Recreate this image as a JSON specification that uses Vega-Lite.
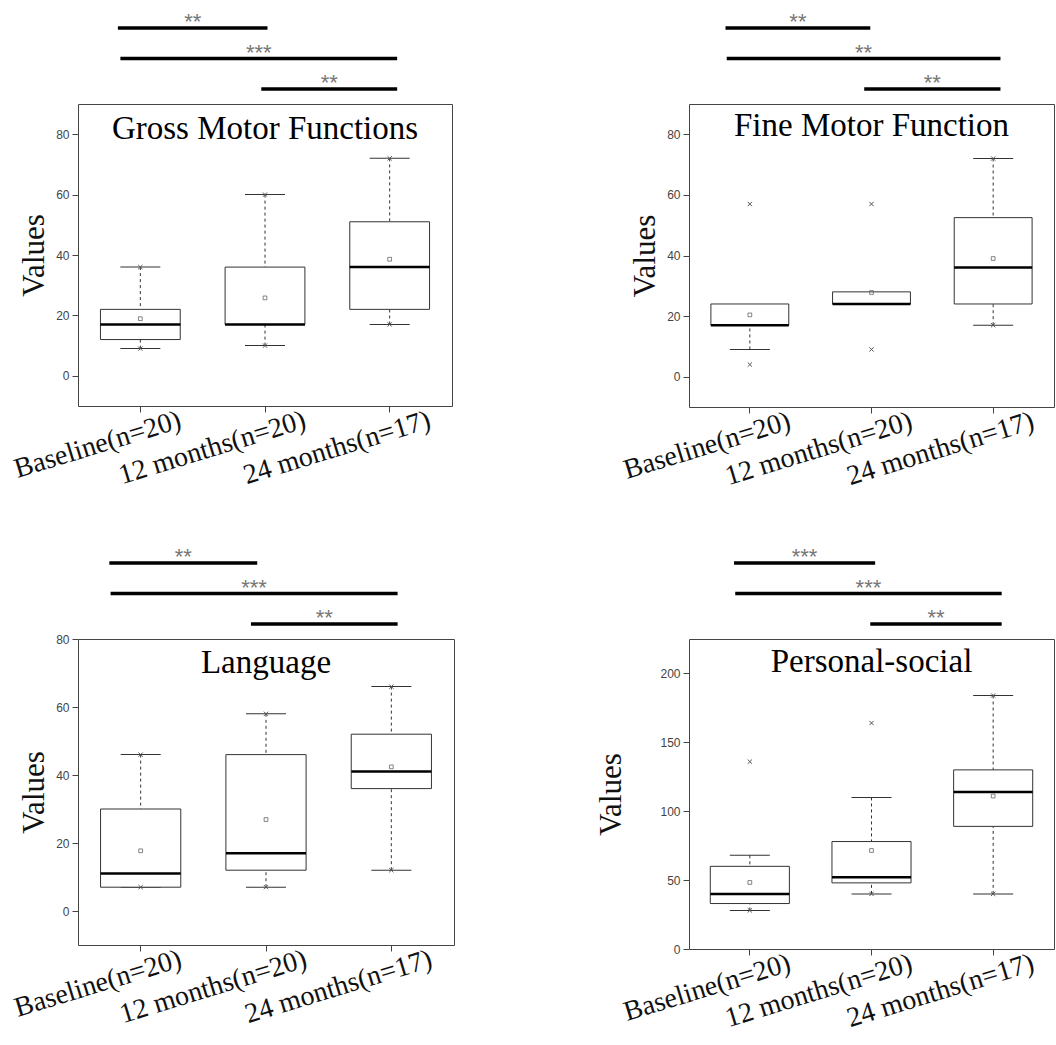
{
 "$schema": "https://vega.github.io/schema/vega-lite/v6.json",
 "background": "white",
 "padding": {"left": 10, "top": 0, "right": 0, "bottom": 0},
 "datasets": {
  "boxes": [
   {"panel": "G", "group": "Baseline(n=20)", "lw": 9, "q1": 12, "med": 17, "q3": 22, "uw": 36, "mean": 18.9, "min": 9, "max": 36},
   {"panel": "G", "group": "12 months(n=20)", "lw": 10, "q1": 17, "med": 17, "q3": 36, "uw": 60, "mean": 25.8, "min": 10, "max": 60},
   {"panel": "G", "group": "24 months(n=17)", "lw": 17, "q1": 22, "med": 36, "q3": 51, "uw": 72, "mean": 38.6, "min": 17, "max": 72},
   {"panel": "F", "group": "Baseline(n=20)", "lw": 9, "q1": 17, "med": 17, "q3": 24, "uw": null, "mean": 20.4, "min": 4, "max": 57},
   {"panel": "F", "group": "12 months(n=20)", "lw": null, "q1": 24, "med": 24, "q3": 28, "uw": null, "mean": 27.8, "min": 9, "max": 57},
   {"panel": "F", "group": "24 months(n=17)", "lw": 17, "q1": 24, "med": 36, "q3": 52.5, "uw": 72, "mean": 39, "min": 17, "max": 72},
   {"panel": "L", "group": "Baseline(n=20)", "lw": 7, "q1": 7, "med": 11, "q3": 30, "uw": 46, "mean": 17.7, "min": 7, "max": 46},
   {"panel": "L", "group": "12 months(n=20)", "lw": 7, "q1": 12, "med": 17, "q3": 46, "uw": 58, "mean": 26.9, "min": 7, "max": 58},
   {"panel": "L", "group": "24 months(n=17)", "lw": 12, "q1": 36, "med": 41, "q3": 52, "uw": 66, "mean": 42.4, "min": 12, "max": 66},
   {"panel": "P", "group": "Baseline(n=20)", "lw": 28, "q1": 33, "med": 40, "q3": 60, "uw": 68, "mean": 48.3, "min": 28, "max": 136},
   {"panel": "P", "group": "12 months(n=20)", "lw": 40, "q1": 48, "med": 52, "q3": 78, "uw": 110, "mean": 71.5, "min": 40, "max": 164},
   {"panel": "P", "group": "24 months(n=17)", "lw": 40, "q1": 89, "med": 114, "q3": 130, "uw": 184, "mean": 111, "min": 40, "max": 184}
  ],
  "sig": [
   {"panel": "G", "row": 1, "from": 0.32, "to": 1.52, "label": "**"},
   {"panel": "G", "row": 2, "from": 0.34, "to": 2.56, "label": "***"},
   {"panel": "G", "row": 3, "from": 1.47, "to": 2.56, "label": "**"},
   {"panel": "F", "row": 1, "from": 0.30, "to": 1.49, "label": "**"},
   {"panel": "F", "row": 2, "from": 0.31, "to": 2.56, "label": "**"},
   {"panel": "F", "row": 3, "from": 1.44, "to": 2.56, "label": "**"},
   {"panel": "L", "row": 1, "from": 0.25, "to": 1.43, "label": "**"},
   {"panel": "L", "row": 2, "from": 0.26, "to": 2.55, "label": "***"},
   {"panel": "L", "row": 3, "from": 1.38, "to": 2.55, "label": "**"},
   {"panel": "P", "row": 1, "from": 0.37, "to": 1.53, "label": "***"},
   {"panel": "P", "row": 2, "from": 0.38, "to": 2.57, "label": "***"},
   {"panel": "P", "row": 3, "from": 1.49, "to": 2.57, "label": "**"}
  ],
  "titles": [
   {"panel": "G", "title": "Gross Motor Functions"},
   {"panel": "F", "title": "Fine Motor Function"},
   {"panel": "L", "title": "Language"},
   {"panel": "P", "title": "Personal-social"}
  ]
 },
 "columns": 2,
 "align": {"row": "each", "column": "all"},
 "spacing": {"row": 44, "column": 140},
 "concat": [
  {
   "columns": 1, "align": "each", "bounds": "flush", "spacing": 4,
   "concat": [
    {
     "width": 374, "height": 100, "view": {"stroke": null},
     "data": {"name": "sig"},
     "transform": [{"filter": "datum.panel === 'G'"}, {"calculate": "(datum.from + datum.to) / 2", "as": "mid"}],
     "layer": [
      {"mark": {"type": "rule", "strokeWidth": 3.5, "color": "#000"},
       "encoding": {
        "x": {"field": "from", "type": "quantitative", "scale": {"domain": [0, 3], "nice": false, "zero": false}, "axis": null},
        "x2": {"field": "to"},
        "y": {"field": "row", "type": "quantitative", "scale": {"domain": [0.08, 3.36], "reverse": true, "nice": false, "zero": false}, "axis": null}}},
      {"mark": {"type": "text", "font": "Liberation Sans", "fontSize": 22, "color": "#777", "baseline": "alphabetic", "dy": 1},
       "encoding": {"x": {"field": "mid", "type": "quantitative", "axis": null}, "y": {"field": "row", "type": "quantitative", "axis": null}, "text": {"field": "label"}}}
     ]
    },
    {
     "width": 374, "height": 302,
     "layer": [
      {
       "data": {"name": "boxes"},
       "transform": [{"filter": "datum.panel === 'G'"}],
       "encoding": {"x": {"field": "group", "type": "nominal", "sort": null, "scale": {"type": "band", "domain": ["Baseline(n=20)", "12 months(n=20)", "24 months(n=17)"], "paddingInner": 0, "paddingOuter": 0}, "axis": {"title": null}}},
       "layer": [
        {"mark": {"type": "rule", "strokeDash": [3, 3], "color": "#333", "strokeWidth": 1},
         "encoding": {"y": {"field": "lw", "type": "quantitative", "title": "Values", "scale": {"domain": [-10, 90], "nice": false, "zero": false},
           "axis": {"title": "Values", "titlePadding": 5, "values": [0, 10, 20, 30, 40, 50, 60, 70, 80], "labelExpr": "datum.value % 20 === 0 ? datum.label : ''", "tickSize": {"condition": {"test": "datum.value % 20 === 0", "value": 6}, "value": 3}}},
          "y2": {"field": "q1"}}},
        {"mark": {"type": "rule", "strokeDash": [3, 3], "color": "#333", "strokeWidth": 1},
         "encoding": {"y": {"field": "uw", "type": "quantitative", "title": "Values"}, "y2": {"field": "q3"}}},
        {"mark": {"type": "tick", "size": 40, "thickness": 1, "color": "#333", "opacity": 1}, "encoding": {"y": {"field": "lw", "type": "quantitative", "title": "Values"}}},
        {"mark": {"type": "tick", "size": 40, "thickness": 1, "color": "#333", "opacity": 1}, "encoding": {"y": {"field": "uw", "type": "quantitative", "title": "Values"}}},
        {"mark": {"type": "bar", "fill": "white", "stroke": "#333", "strokeWidth": 1, "width": {"band": 0.64}},
         "encoding": {"y": {"field": "q1", "type": "quantitative", "title": "Values"}, "y2": {"field": "q3"}}},
        {"mark": {"type": "tick", "size": 80, "thickness": 2.5, "color": "#000", "opacity": 1}, "encoding": {"y": {"field": "med", "type": "quantitative", "title": "Values"}}},
        {"mark": {"type": "point", "shape": "square", "filled": false, "size": 14, "color": "#666", "strokeWidth": 0.8, "opacity": 1}, "encoding": {"y": {"field": "mean", "type": "quantitative", "title": "Values"}}},
        {"mark": {"type": "point", "shape": "M-1,-1L1,1M1,-1L-1,1", "filled": false, "size": 18, "color": "#555", "strokeWidth": 1, "opacity": 1}, "encoding": {"y": {"field": "min", "type": "quantitative", "title": "Values"}}},
        {"mark": {"type": "point", "shape": "M-1,-1L1,1M1,-1L-1,1", "filled": false, "size": 18, "color": "#555", "strokeWidth": 1, "opacity": 1}, "encoding": {"y": {"field": "max", "type": "quantitative", "title": "Values"}}}
       ]
      },
      {
       "data": {"name": "titles"},
       "transform": [{"filter": "datum.panel === 'G'"}],
       "mark": {"type": "text", "font": "Liberation Serif", "fontSize": 33, "baseline": "alphabetic", "color": "#000"},
       "encoding": {"x": {"datum": "12 months(n=20)", "type": "nominal"}, "y": {"datum": 78.5, "type": "quantitative", "title": "Values"}, "text": {"field": "title"}}
      }
     ]
    }
   ]
  },
  {
   "columns": 1, "align": "each", "bounds": "flush", "spacing": 4,
   "concat": [
    {
     "width": 365, "height": 100, "view": {"stroke": null},
     "data": {"name": "sig"},
     "transform": [{"filter": "datum.panel === 'F'"}, {"calculate": "(datum.from + datum.to) / 2", "as": "mid"}],
     "layer": [
      {"mark": {"type": "rule", "strokeWidth": 3.5, "color": "#000"},
       "encoding": {
        "x": {"field": "from", "type": "quantitative", "scale": {"domain": [0, 3], "nice": false, "zero": false}, "axis": null},
        "x2": {"field": "to"},
        "y": {"field": "row", "type": "quantitative", "scale": {"domain": [0.08, 3.36], "reverse": true, "nice": false, "zero": false}, "axis": null}}},
      {"mark": {"type": "text", "font": "Liberation Sans", "fontSize": 22, "color": "#777", "baseline": "alphabetic", "dy": 1},
       "encoding": {"x": {"field": "mid", "type": "quantitative", "axis": null}, "y": {"field": "row", "type": "quantitative", "axis": null}, "text": {"field": "label"}}}
     ]
    },
    {
     "width": 365, "height": 303,
     "layer": [
      {
       "data": {"name": "boxes"},
       "transform": [{"filter": "datum.panel === 'F'"}],
       "encoding": {"x": {"field": "group", "type": "nominal", "sort": null, "scale": {"type": "band", "domain": ["Baseline(n=20)", "12 months(n=20)", "24 months(n=17)"], "paddingInner": 0, "paddingOuter": 0}, "axis": {"title": null}}},
       "layer": [
        {"mark": {"type": "rule", "strokeDash": [3, 3], "color": "#333", "strokeWidth": 1},
         "encoding": {"y": {"field": "lw", "type": "quantitative", "title": "Values", "scale": {"domain": [-10, 90], "nice": false, "zero": false},
           "axis": {"title": "Values", "titlePadding": 5, "values": [0, 10, 20, 30, 40, 50, 60, 70, 80], "labelExpr": "datum.value % 20 === 0 ? datum.label : ''", "tickSize": {"condition": {"test": "datum.value % 20 === 0", "value": 6}, "value": 3}}},
          "y2": {"field": "q1"}}},
        {"mark": {"type": "rule", "strokeDash": [3, 3], "color": "#333", "strokeWidth": 1},
         "encoding": {"y": {"field": "uw", "type": "quantitative", "title": "Values"}, "y2": {"field": "q3"}}},
        {"mark": {"type": "tick", "size": 40, "thickness": 1, "color": "#333", "opacity": 1}, "encoding": {"y": {"field": "lw", "type": "quantitative", "title": "Values"}}},
        {"mark": {"type": "tick", "size": 40, "thickness": 1, "color": "#333", "opacity": 1}, "encoding": {"y": {"field": "uw", "type": "quantitative", "title": "Values"}}},
        {"mark": {"type": "bar", "fill": "white", "stroke": "#333", "strokeWidth": 1, "width": {"band": 0.64}},
         "encoding": {"y": {"field": "q1", "type": "quantitative", "title": "Values"}, "y2": {"field": "q3"}}},
        {"mark": {"type": "tick", "size": 78, "thickness": 2.5, "color": "#000", "opacity": 1}, "encoding": {"y": {"field": "med", "type": "quantitative", "title": "Values"}}},
        {"mark": {"type": "point", "shape": "square", "filled": false, "size": 14, "color": "#666", "strokeWidth": 0.8, "opacity": 1}, "encoding": {"y": {"field": "mean", "type": "quantitative", "title": "Values"}}},
        {"mark": {"type": "point", "shape": "M-1,-1L1,1M1,-1L-1,1", "filled": false, "size": 18, "color": "#555", "strokeWidth": 1, "opacity": 1}, "encoding": {"y": {"field": "min", "type": "quantitative", "title": "Values"}}},
        {"mark": {"type": "point", "shape": "M-1,-1L1,1M1,-1L-1,1", "filled": false, "size": 18, "color": "#555", "strokeWidth": 1, "opacity": 1}, "encoding": {"y": {"field": "max", "type": "quantitative", "title": "Values"}}}
       ]
      },
      {
       "data": {"name": "titles"},
       "transform": [{"filter": "datum.panel === 'F'"}],
       "mark": {"type": "text", "font": "Liberation Serif", "fontSize": 33, "baseline": "alphabetic", "color": "#000"},
       "encoding": {"x": {"datum": "12 months(n=20)", "type": "nominal"}, "y": {"datum": 79.5, "type": "quantitative", "title": "Values"}, "text": {"field": "title"}}
      }
     ]
    }
   ]
  },
  {
   "columns": 1, "align": "each", "bounds": "flush", "spacing": 4,
   "concat": [
    {
     "width": 376, "height": 100, "view": {"stroke": null},
     "data": {"name": "sig"},
     "transform": [{"filter": "datum.panel === 'L'"}, {"calculate": "(datum.from + datum.to) / 2", "as": "mid"}],
     "layer": [
      {"mark": {"type": "rule", "strokeWidth": 3.5, "color": "#000"},
       "encoding": {
        "x": {"field": "from", "type": "quantitative", "scale": {"domain": [0, 3], "nice": false, "zero": false}, "axis": null},
        "x2": {"field": "to"},
        "y": {"field": "row", "type": "quantitative", "scale": {"domain": [0.08, 3.36], "reverse": true, "nice": false, "zero": false}, "axis": null}}},
      {"mark": {"type": "text", "font": "Liberation Sans", "fontSize": 22, "color": "#777", "baseline": "alphabetic", "dy": 1},
       "encoding": {"x": {"field": "mid", "type": "quantitative", "axis": null}, "y": {"field": "row", "type": "quantitative", "axis": null}, "text": {"field": "label"}}}
     ]
    },
    {
     "width": 376, "height": 306,
     "layer": [
      {
       "data": {"name": "boxes"},
       "transform": [{"filter": "datum.panel === 'L'"}],
       "encoding": {"x": {"field": "group", "type": "nominal", "sort": null, "scale": {"type": "band", "domain": ["Baseline(n=20)", "12 months(n=20)", "24 months(n=17)"], "paddingInner": 0, "paddingOuter": 0}, "axis": {"title": null}}},
       "layer": [
        {"mark": {"type": "rule", "strokeDash": [3, 3], "color": "#333", "strokeWidth": 1},
         "encoding": {"y": {"field": "lw", "type": "quantitative", "title": "Values", "scale": {"domain": [-10, 80], "nice": false, "zero": false},
           "axis": {"title": "Values", "titlePadding": 5, "values": [0, 10, 20, 30, 40, 50, 60, 70, 80], "labelExpr": "datum.value % 20 === 0 ? datum.label : ''", "tickSize": {"condition": {"test": "datum.value % 20 === 0", "value": 6}, "value": 3}}},
          "y2": {"field": "q1"}}},
        {"mark": {"type": "rule", "strokeDash": [3, 3], "color": "#333", "strokeWidth": 1},
         "encoding": {"y": {"field": "uw", "type": "quantitative", "title": "Values"}, "y2": {"field": "q3"}}},
        {"mark": {"type": "tick", "size": 40, "thickness": 1, "color": "#333", "opacity": 1}, "encoding": {"y": {"field": "lw", "type": "quantitative", "title": "Values"}}},
        {"mark": {"type": "tick", "size": 40, "thickness": 1, "color": "#333", "opacity": 1}, "encoding": {"y": {"field": "uw", "type": "quantitative", "title": "Values"}}},
        {"mark": {"type": "bar", "fill": "white", "stroke": "#333", "strokeWidth": 1, "width": {"band": 0.64}},
         "encoding": {"y": {"field": "q1", "type": "quantitative", "title": "Values"}, "y2": {"field": "q3"}}},
        {"mark": {"type": "tick", "size": 80, "thickness": 2.5, "color": "#000", "opacity": 1}, "encoding": {"y": {"field": "med", "type": "quantitative", "title": "Values"}}},
        {"mark": {"type": "point", "shape": "square", "filled": false, "size": 14, "color": "#666", "strokeWidth": 0.8, "opacity": 1}, "encoding": {"y": {"field": "mean", "type": "quantitative", "title": "Values"}}},
        {"mark": {"type": "point", "shape": "M-1,-1L1,1M1,-1L-1,1", "filled": false, "size": 18, "color": "#555", "strokeWidth": 1, "opacity": 1}, "encoding": {"y": {"field": "min", "type": "quantitative", "title": "Values"}}},
        {"mark": {"type": "point", "shape": "M-1,-1L1,1M1,-1L-1,1", "filled": false, "size": 18, "color": "#555", "strokeWidth": 1, "opacity": 1}, "encoding": {"y": {"field": "max", "type": "quantitative", "title": "Values"}}}
       ]
      },
      {
       "data": {"name": "titles"},
       "transform": [{"filter": "datum.panel === 'L'"}],
       "mark": {"type": "text", "font": "Liberation Serif", "fontSize": 33, "baseline": "alphabetic", "color": "#000"},
       "encoding": {"x": {"datum": "12 months(n=20)", "type": "nominal"}, "y": {"datum": 70, "type": "quantitative", "title": "Values"}, "text": {"field": "title"}}
      }
     ]
    }
   ]
  },
  {
   "columns": 1, "align": "each", "bounds": "flush", "spacing": 4,
   "concat": [
    {
     "width": 365, "height": 100, "view": {"stroke": null},
     "data": {"name": "sig"},
     "transform": [{"filter": "datum.panel === 'P'"}, {"calculate": "(datum.from + datum.to) / 2", "as": "mid"}],
     "layer": [
      {"mark": {"type": "rule", "strokeWidth": 3.5, "color": "#000"},
       "encoding": {
        "x": {"field": "from", "type": "quantitative", "scale": {"domain": [0, 3], "nice": false, "zero": false}, "axis": null},
        "x2": {"field": "to"},
        "y": {"field": "row", "type": "quantitative", "scale": {"domain": [0.08, 3.36], "reverse": true, "nice": false, "zero": false}, "axis": null}}},
      {"mark": {"type": "text", "font": "Liberation Sans", "fontSize": 22, "color": "#777", "baseline": "alphabetic", "dy": 1},
       "encoding": {"x": {"field": "mid", "type": "quantitative", "axis": null}, "y": {"field": "row", "type": "quantitative", "axis": null}, "text": {"field": "label"}}}
     ]
    },
    {
     "width": 365, "height": 310,
     "layer": [
      {
       "data": {"name": "boxes"},
       "transform": [{"filter": "datum.panel === 'P'"}],
       "encoding": {"x": {"field": "group", "type": "nominal", "sort": null, "scale": {"type": "band", "domain": ["Baseline(n=20)", "12 months(n=20)", "24 months(n=17)"], "paddingInner": 0, "paddingOuter": 0}, "axis": {"title": null}}},
       "layer": [
        {"mark": {"type": "rule", "strokeDash": [3, 3], "color": "#333", "strokeWidth": 1},
         "encoding": {"y": {"field": "lw", "type": "quantitative", "title": "Values", "scale": {"domain": [0, 225], "nice": false, "zero": false},
           "axis": {"title": "Values", "titlePadding": 32, "values": [0, 25, 50, 75, 100, 125, 150, 175, 200], "labelExpr": "datum.value % 50 === 0 ? datum.label : ''", "tickSize": {"condition": {"test": "datum.value % 50 === 0", "value": 6}, "value": 3}}},
          "y2": {"field": "q1"}}},
        {"mark": {"type": "rule", "strokeDash": [3, 3], "color": "#333", "strokeWidth": 1},
         "encoding": {"y": {"field": "uw", "type": "quantitative", "title": "Values"}, "y2": {"field": "q3"}}},
        {"mark": {"type": "tick", "size": 40, "thickness": 1, "color": "#333", "opacity": 1}, "encoding": {"y": {"field": "lw", "type": "quantitative", "title": "Values"}}},
        {"mark": {"type": "tick", "size": 40, "thickness": 1, "color": "#333", "opacity": 1}, "encoding": {"y": {"field": "uw", "type": "quantitative", "title": "Values"}}},
        {"mark": {"type": "bar", "fill": "white", "stroke": "#333", "strokeWidth": 1, "width": {"band": 0.65}},
         "encoding": {"y": {"field": "q1", "type": "quantitative", "title": "Values"}, "y2": {"field": "q3"}}},
        {"mark": {"type": "tick", "size": 79, "thickness": 2.5, "color": "#000", "opacity": 1}, "encoding": {"y": {"field": "med", "type": "quantitative", "title": "Values"}}},
        {"mark": {"type": "point", "shape": "square", "filled": false, "size": 14, "color": "#666", "strokeWidth": 0.8, "opacity": 1}, "encoding": {"y": {"field": "mean", "type": "quantitative", "title": "Values"}}},
        {"mark": {"type": "point", "shape": "M-1,-1L1,1M1,-1L-1,1", "filled": false, "size": 18, "color": "#555", "strokeWidth": 1, "opacity": 1}, "encoding": {"y": {"field": "min", "type": "quantitative", "title": "Values"}}},
        {"mark": {"type": "point", "shape": "M-1,-1L1,1M1,-1L-1,1", "filled": false, "size": 18, "color": "#555", "strokeWidth": 1, "opacity": 1}, "encoding": {"y": {"field": "max", "type": "quantitative", "title": "Values"}}}
       ]
      },
      {
       "data": {"name": "titles"},
       "transform": [{"filter": "datum.panel === 'P'"}],
       "mark": {"type": "text", "font": "Liberation Serif", "fontSize": 33, "baseline": "alphabetic", "color": "#000"},
       "encoding": {"x": {"datum": "12 months(n=20)", "type": "nominal"}, "y": {"datum": 201, "type": "quantitative", "title": "Values"}, "text": {"field": "title"}}
      }
     ]
    }
   ]
  }
 ],
 "config": {
  "view": {"stroke": "#444", "strokeWidth": 1},
  "axisX": {"domain": false, "tickColor": "#444", "tickSize": 6, "labelFont": "Liberation Serif", "labelFontSize": 28, "labelColor": "#111", "labelAngle": -17, "labelAlign": "right", "labelBaseline": "top", "labelOffset": 36, "labelPadding": -6, "labelOverlap": false, "labelLimit": 400},
  "axisY": {"domain": false, "grid": false, "tickColor": "#444", "labelFont": "Liberation Sans", "labelFontSize": 12, "labelColor": "#444", "labelPadding": 3, "titleFont": "Liberation Serif", "titleFontSize": 31, "titleFontWeight": "normal", "titleColor": "#111"}
 }
}
